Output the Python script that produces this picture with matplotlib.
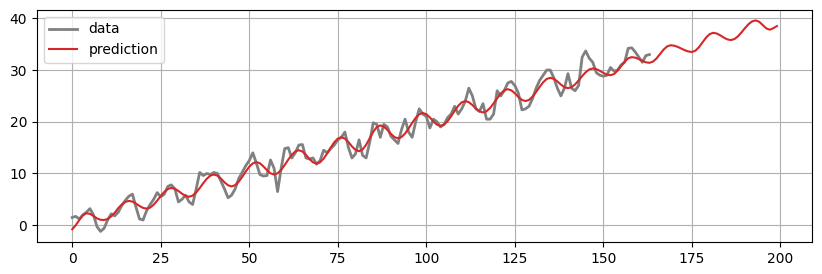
import numpy as np
import matplotlib
matplotlib.use("Agg")
import matplotlib.pyplot as plt

data = [1.5, 1.7, 1.2, 2.0, 2.5, 3.2, 2.0, -0.3, -1.2, -0.6,
        1.0, 2.2, 1.8, 2.5, 3.8, 4.8, 5.6, 6.0, 3.5, 1.2,
        1.0, 2.8, 4.0, 5.0, 6.3, 5.5, 6.0, 7.5, 7.8, 7.0,
        4.5, 5.0, 5.8, 4.5, 4.0, 7.0, 10.2, 9.6, 10.0, 9.8,
        10.2, 10.0, 8.5, 7.0, 5.3, 5.8, 7.0, 9.0, 10.2, 11.5,
        12.5, 14.0, 12.0, 9.8, 9.5, 9.6, 12.6, 11.0, 6.5, 11.0,
        14.8, 15.0, 13.0, 14.0, 15.5, 15.6, 13.0, 12.8, 13.0, 11.8,
        12.5, 14.5, 14.0, 14.8, 15.5, 16.5, 17.0, 18.0, 15.0, 13.0,
        13.8, 16.5, 13.5, 13.0, 16.0, 19.8, 19.5, 17.0, 19.5, 19.0,
        17.2, 16.5, 15.8, 18.5, 20.5, 18.0, 17.0, 20.0, 22.5, 21.5,
        21.0, 18.8, 20.5, 20.0, 19.0, 19.5, 20.8, 21.5, 23.0, 21.5,
        22.5, 24.0, 26.5, 25.0, 22.5, 22.0, 23.5, 20.5, 20.5, 21.5,
        26.0, 25.0, 26.0, 27.5, 27.8, 27.0, 25.5, 22.3, 22.5, 23.0,
        24.5, 26.5, 28.0, 29.0, 30.0, 30.0, 28.5, 26.5, 25.0, 26.5,
        29.3, 26.5, 26.0, 27.0, 32.5, 33.7, 32.3, 31.5, 29.5, 29.0,
        28.8, 29.0, 30.5, 29.8, 30.0, 31.0, 31.5, 34.2, 34.3, 33.5,
        32.5, 31.5, 32.8, 33.0]

prediction = [-0.8, 0.0, 1.0, 1.9, 2.3, 2.2, 1.8, 1.3, 1.05, 1.0,
              1.2, 1.7, 2.4, 3.3, 4.0, 4.5, 4.7, 4.56, 4.18, 3.72,
              3.34, 3.2, 3.4, 3.96, 4.76, 5.64, 6.44, 7.0, 7.2, 7.04,
              6.61, 6.09, 5.66, 5.5, 5.72, 6.32, 7.18, 8.12, 8.98, 9.58,
              9.8, 9.58, 9.01, 8.29, 7.72, 7.5, 7.74, 8.39, 9.33, 10.37,
              11.31, 11.96, 12.2, 11.97, 11.37, 10.63, 10.03, 9.8, 10.04, 10.69,
              11.63, 12.67, 13.61, 14.26, 14.5, 14.25, 13.6, 12.8, 12.15, 11.9,
              12.16, 12.87, 13.89, 15.01, 16.03, 16.74, 17.0, 16.74, 16.07, 15.23,
              14.56, 14.3, 14.64, 15.55, 16.8, 18.05, 18.97, 19.3, 19.06, 18.44,
              17.66, 17.04, 16.8, 17.05, 17.73, 18.71, 19.79, 20.77, 21.45, 21.7,
              21.46, 20.84, 20.06, 19.44, 19.2, 19.44, 20.11, 21.07, 22.13, 23.09,
              23.76, 24.0, 23.79, 23.24, 22.56, 22.01, 21.8, 22.03, 22.66, 23.56,
              24.54, 25.44, 26.08, 26.3, 26.08, 25.51, 24.79, 24.22, 24.0, 24.23,
              24.86, 25.76, 26.74, 27.64, 28.28, 28.5, 28.31, 27.81, 27.19, 26.69,
              26.5, 26.69, 27.22, 27.98, 28.82, 29.58, 30.11, 30.3, 30.18, 29.85,
              29.45, 29.12, 29.0, 29.23, 29.88, 30.75, 31.63, 32.27, 32.5, 32.4,
              32.12, 31.78, 31.5, 31.4, 31.63, 32.25, 33.1, 33.95, 34.57, 34.8,
              34.71, 34.48, 34.15, 33.83, 33.59, 33.5, 33.75, 34.43, 35.35, 36.28,
              36.95, 37.2, 37.07, 36.72, 36.28, 35.93, 35.8, 35.99, 36.52, 37.28,
              38.12, 38.88, 39.41, 39.6, 39.34, 38.7, 38.06, 37.8, 38.1, 38.5]

x_data = np.arange(len(data))
x_pred = np.arange(len(prediction))

fig = plt.figure(figsize=(8.22, 2.74), dpi=100)
ax = fig.add_axes([0.045, 0.117, 0.943, 0.847])
ax.plot(x_data, data, color="gray", linewidth=2, label="data")
ax.plot(x_pred, prediction, color="tab:red", linewidth=1.5, label="prediction")
ax.grid(True)
ax.set_xticks([0, 25, 50, 75, 100, 125, 150, 175, 200])
ax.set_yticks([0, 10, 20, 30, 40])
ax.legend(loc="upper left")
fig.savefig("out.png", dpi=100)
